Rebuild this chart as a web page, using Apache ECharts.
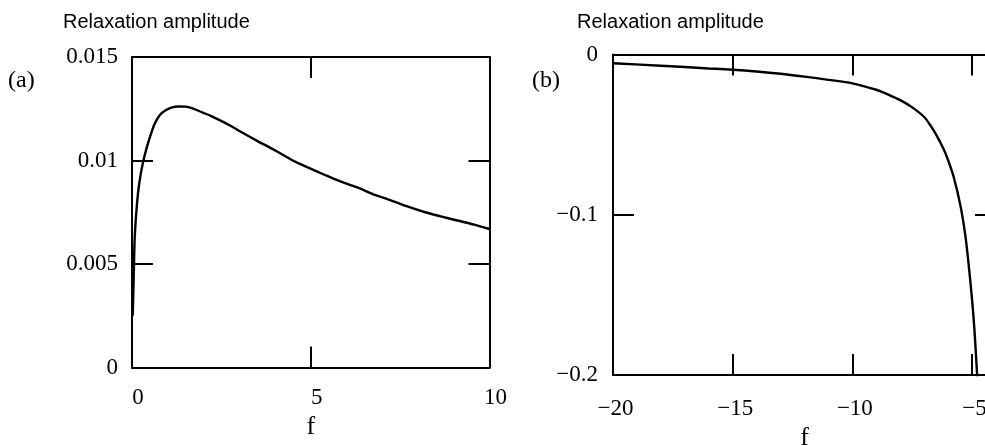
<!DOCTYPE html>
<html><head><meta charset="utf-8">
<script src="https://cdn.jsdelivr.net/npm/echarts@6/dist/echarts.min.js"></script>
<style>html,body{margin:0;padding:0;background:#fff}#c{width:985px;height:445px}</style>
</head><body><div id="c"></div><script>
// Panel (a) curve
const fA   = [0.02, 0.05, 0.07, 0.10, 0.14, 0.18, 0.25, 0.32, 0.40, 0.46, 0.55, 0.64, 0.78, 0.92, 1.10, 1.30, 1.50, 1.67, 2.00, 2.23, 2.70, 3.03, 3.50, 3.97, 4.50, 4.90, 5.40, 5.83, 6.30, 6.77, 7.20, 7.70, 8.20, 8.64, 9.10, 9.57, 10.0];
const ampA = [0.0025, 0.0045, 0.0060, 0.0070, 0.0079, 0.0086, 0.0094, 0.0100, 0.01055, 0.0109, 0.01138, 0.0118, 0.0122, 0.0124, 0.01255, 0.01261, 0.0126, 0.01253, 0.0123, 0.01213, 0.01173, 0.0114, 0.01095, 0.01052, 0.0100, 0.00968, 0.0093, 0.00899, 0.0087, 0.00835, 0.0081, 0.00778, 0.0075, 0.0073, 0.0071, 0.0069, 0.00669];
// Panel (b) curve
const fB   = [-20, -18, -16, -15, -14, -13, -12, -11, -10, -9, -8.5, -8, -7.5, -7, -6.75, -6.5, -6.19, -6.0, -5.77, -5.49, -5.28, -5.15, -5.0, -4.9, -4.80, -4.78];
const ampB = [-0.0055, -0.0070, -0.0087, -0.0095, -0.0106, -0.0120, -0.0138, -0.0158, -0.0180, -0.0220, -0.0250, -0.0285, -0.0330, -0.0390, -0.0440, -0.0500, -0.0590, -0.0660, -0.0763, -0.0940, -0.1130, -0.1300, -0.1530, -0.1720, -0.1970, -0.2030];

const xTicksA = [0, 5, 10],            xLabelsA = ['0', '5', '10'];
const yTicksA = [0, 0.005, 0.01, 0.015], yLabelsA = ['0', '0.005', '0.01', '0.015'];
const xTicksB = [-20, -15, -10, -5],   xLabelsB = ['\u221220', '\u221215', '\u221210', '\u22125'];
const yTicksB = [-0.2, -0.1, 0],       yLabelsB = ['\u22120.2', '\u22120.1', '0'];

const yTitle = 'Relaxation amplitude';
const xTitle = 'f';
const tags = ['(a)', '(b)'];

const serif = "'Liberation Serif','Times New Roman',serif";
const sans = "'Liberation Sans',Arial,sans-serif";

function fmt(ticks, labels) {
  return v => { for (let i = 0; i < ticks.length; i++) if (Math.abs(v - ticks[i]) < 1e-9) return labels[i]; return ''; };
}
function axisBase() {
  return {
    axisLine: {show: true, onZero: false, lineStyle: {color: '#000', width: 2}},
    axisTick: {show: true, inside: true, length: 21, lineStyle: {color: '#000', width: 2}},
    splitLine: {show: false}
  };
}
function xAxes(g, min, max, ticks, labels, margin, padL, nameGap) {
  return [
    Object.assign(axisBase(), {type: 'value', gridIndex: g, position: 'bottom', min, max, interval: 5,
      axisLabel: {formatter: fmt(ticks, labels), margin, color: '#000', fontFamily: serif, fontSize: 23, padding: [0, 0, 0, padL], showMaxLabel: true},
      name: xTitle, nameLocation: 'middle', nameGap, nameTextStyle: {color: '#000', fontFamily: serif, fontSize: 26, verticalAlign: 'top'}}),
    Object.assign(axisBase(), {type: 'value', gridIndex: g, position: 'top', min, max, interval: 5, axisLabel: {show: false}})
  ];
}
function yAxes(g, min, max, interval, ticks, labels, margin) {
  return [
    Object.assign(axisBase(), {type: 'value', gridIndex: g, position: 'left', min, max, interval,
      axisLabel: {formatter: fmt(ticks, labels), margin, color: '#000', fontFamily: serif, fontSize: 23, padding: [4, 0, 0, 0]}}),
    Object.assign(axisBase(), {type: 'value', gridIndex: g, position: 'right', min, max, interval, axisLabel: {show: false}})
  ];
}
function curve(xi, yi, xs, ys) {
  return {type: 'line', xAxisIndex: xi, yAxisIndex: yi, showSymbol: false, smooth: 0.3, clip: true,
    lineStyle: {color: '#000', width: 2.4}, data: xs.map((x, i) => [x, ys[i]])};
}

const chart = echarts.init(document.getElementById('c'), null, {renderer: 'canvas'});
chart.setOption({
  backgroundColor: '#fff',
  animation: false,
  grid: [
    {left: 132, top: 57, width: 357.5, height: 310.5, containLabel: false, outerBoundsMode: 'none'},
    {left: 613, top: 54.5, width: 383, height: 320.5, containLabel: false, outerBoundsMode: 'none'}
  ],
  xAxis: [].concat(
    xAxes(0, 0, 10, xTicksA, xLabelsA, 19, 12, 45),
    xAxes(1, -20, -4, xTicksB, xLabelsB, 22, 5, 48)
  ),
  yAxis: [].concat(
    yAxes(0, 0, 0.015, 0.005, yTicksA, yLabelsA, 14),
    yAxes(1, -0.2, 0, 0.1, yTicksB, yLabelsB, 15)
  ),
  graphic: [
    {type: 'text', left: 63, top: 12, style: {text: yTitle, font: '20px ' + sans, fill: '#000'}},
    {type: 'text', left: 577, top: 12, style: {text: yTitle, font: '20px ' + sans, fill: '#000'}},
    {type: 'text', left: 8, top: 69, style: {text: tags[0], font: '24px ' + serif, fill: '#000'}},
    {type: 'text', left: 532, top: 69, style: {text: tags[1], font: '24px ' + serif, fill: '#000'}}
  ],
  series: [
    curve(0, 0, fA, ampA),
    curve(2, 2, fB, ampB)
  ]
});
</script></body></html>
